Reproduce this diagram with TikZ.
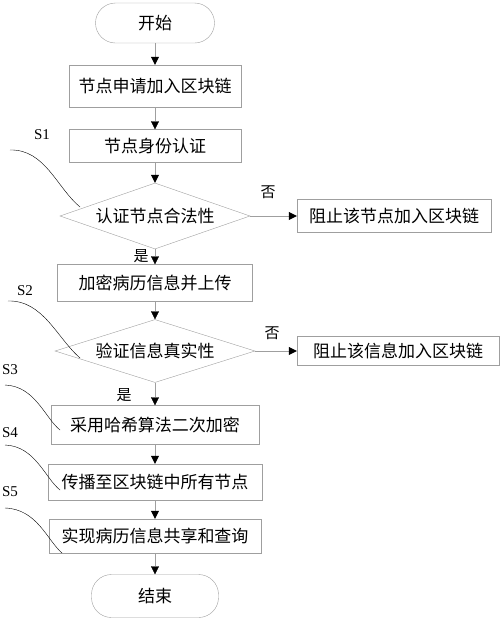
\documentclass[tikz,border=0pt]{standalone}
\usepackage{fontspec}
\setmainfont{Liberation Serif}
\newfontfamily\cjk{Noto Sans CJK SC}
\usetikzlibrary{shapes.geometric, arrows.meta, positioning}
\tikzset{>={Triangle[black,length=8pt,width=8pt]}}
\tikzset{
  stepbox/.style={draw=gray!75, thin, inner sep=0pt, font=\cjk\fontsize{17pt}{17pt}\selectfont},
  endbox/.style={stepbox, rounded corners=20pt},
  testbox/.style={stepbox, diamond, aspect=3},
  flow/.style={draw=gray!75, ->},
  sidelabel/.style={inner sep=0pt, font=\cjk\fontsize{15pt}{15pt}\selectfont},
  steplabel/.style={inner sep=0pt, font=\fontsize{15pt}{15pt}\selectfont},
  leader/.style={draw=black, thin}
}
\begin{document}
\begin{tikzpicture}[x=1pt,y=-1pt]
	\useasboundingbox (0,0) rectangle (500,619);
	% main column
	\node [endbox, minimum width=119, minimum height=40] (start) at (155,23) {开始};
	\node [stepbox, minimum width=172, minimum height=42] (apply) at (155,86) {节点申请加入区块链};
	\node [stepbox, minimum width=172, minimum height=33] (auth) at (155,146) {节点身份认证};
	\node [testbox, minimum width=190, minimum height=66] (legal) at (155,216) {认证节点合法性};
	\node [stepbox, minimum width=194, minimum height=33] (blocknode) at (394,216) {阻止该节点加入区块链};
	\node [stepbox, minimum width=195, minimum height=37] (upload) at (155,283) {加密病历信息并上传};
	\node [testbox, minimum width=200, minimum height=63] (real) at (155,351) {验证信息真实性};
	\node [stepbox, minimum width=202, minimum height=29] (blockinfo) at (398,351) {阻止该信息加入区块链};
	\node [stepbox, minimum width=208, minimum height=39] (hash) at (155,425) {采用哈希算法二次加密};
	\node [stepbox, minimum width=214, minimum height=36] (spread) at (155,482) {传播至区块链中所有节点};
	\node [stepbox, minimum width=212, minimum height=34] (share) at (155,536) {实现病历信息共享和查询};
	\node [endbox, minimum width=127, minimum height=43] (stop) at (155,596) {结束};
	% arrows
	\draw [flow] (start) -- (apply);
	\draw [flow] (apply) -- (auth);
	\draw [flow] (auth) -- (legal);
	\draw [flow] (legal) -- (upload);
	\draw [flow] (upload) -- (real);
	\draw [flow] (real) -- (hash);
	\draw [flow] (hash) -- (spread);
	\draw [flow] (spread) -- (share);
	\draw [flow] (share) -- (stop);
	\draw [flow] (legal.east) -- (blocknode.west);
	\draw [flow] (real.east) -- (blockinfo.west);
	\node [sidelabel] (yes1) at (141,256) {是};
	\node [sidelabel] (no1) at (268,192) {否};
	\node [sidelabel] (yes2) at (124,395) {是};
	\node [sidelabel] (no2) at (272,333) {否};
	% step marks
	\node [steplabel] (s1) at (42,135) {S1};
	\node [steplabel] (s2) at (25,291) {S2};
	\node [steplabel] (s3) at (10,370) {S3};
	\node [steplabel] (s4) at (10,433) {S4};
	\node [steplabel] (s5) at (10,492) {S5};
	\coordinate (s1a) at (10,150); \coordinate (s1b) at (80,207);
	\coordinate (s2a) at (8,301); \coordinate (s2b) at (80,358);
	\coordinate (s3a) at (5,385); \coordinate (s3b) at (60,430);
	\coordinate (s4a) at (5,445); \coordinate (s4b) at (60,490);
	\coordinate (s5a) at (5,508); \coordinate (s5b) at (62,553);
	\draw [leader] (s1a) .. controls (45,149) and (57,188) .. (s1b);
	\draw [leader] (s2a) .. controls (43,300) and (57,338) .. (s2b);
	\draw [leader] (s3a) .. controls (35,386) and (45,418) .. (s3b);
	\draw [leader] (s4a) .. controls (35,446) and (45,478) .. (s4b);
	\draw [leader] (s5a) .. controls (37,509) and (47,540) .. (s5b);
\end{tikzpicture}
\end{document}
